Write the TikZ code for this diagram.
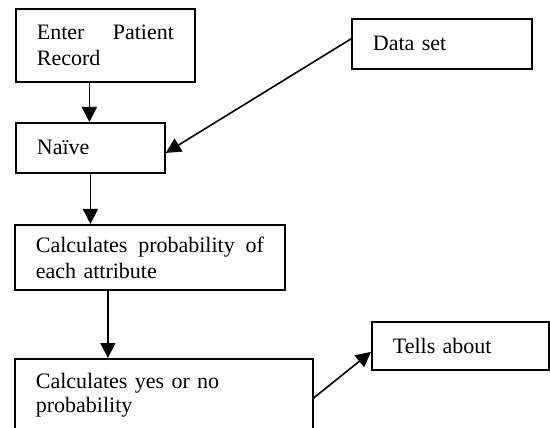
\documentclass[tikz,border=0pt]{standalone}
\usepackage{fontspec}
\setmainfont{Liberation Serif}
\usetikzlibrary{arrows.meta,calc}
\begin{document}
\begin{tikzpicture}[x=1pt,y=-1pt,
  box/.style={draw, line width=1.8pt, rectangle, anchor=north west, inner xsep=21pt, inner ysep=0pt,
    align=left, font=\fontsize{22}{26}\selectfont},
  arr/.style={line width=1.6pt, -{Triangle[length=15pt,width=15pt]}}]
\clip (0,0) rectangle (550,428);
\fill[white] (0,0) rectangle (550,428);
\node[box, text width=137pt, minimum height=73pt] (b1) at (15,8)
  {\makebox[137pt][l]{Enter\hfill Patient}\\Record};
\node[box, text width=107pt, minimum height=50pt] (nv) at (15,122) {Naïve};
\node[box, text width=228pt, minimum height=65pt] (b3) at (14,224)
  {\makebox[228pt][l]{Calculates\hfill probability\hfill of}\\each attribute};
\node[box, text width=256pt, minimum height=72pt, font=\fontsize{22}{24}\selectfont] (b4) at (14,358)
  {Calculates yes or no\\probability};
\node[box, text width=138pt, minimum height=50pt] (ds) at (351,18) {Data set};
\node[box, text width=135pt, minimum height=48pt] (ta) at (371,321) {Tells about};
\draw[arr] ([xshift=-16pt]b1.south) -- ([xshift=-16pt]b1.south |- nv.north);
\draw[arr] (nv.south) -- (nv.south |- b3.north);
\draw[arr] ([xshift=-42pt]b3.south) -- ([xshift=-42pt]b3.south |- b4.north);
\draw[arr] ([yshift=5pt]ds.west) -- ([yshift=-5pt]nv.east);
\draw[arr] ([yshift=-3pt]b4.east) -- ([yshift=-6pt]ta.west);
\end{tikzpicture}
\end{document}
